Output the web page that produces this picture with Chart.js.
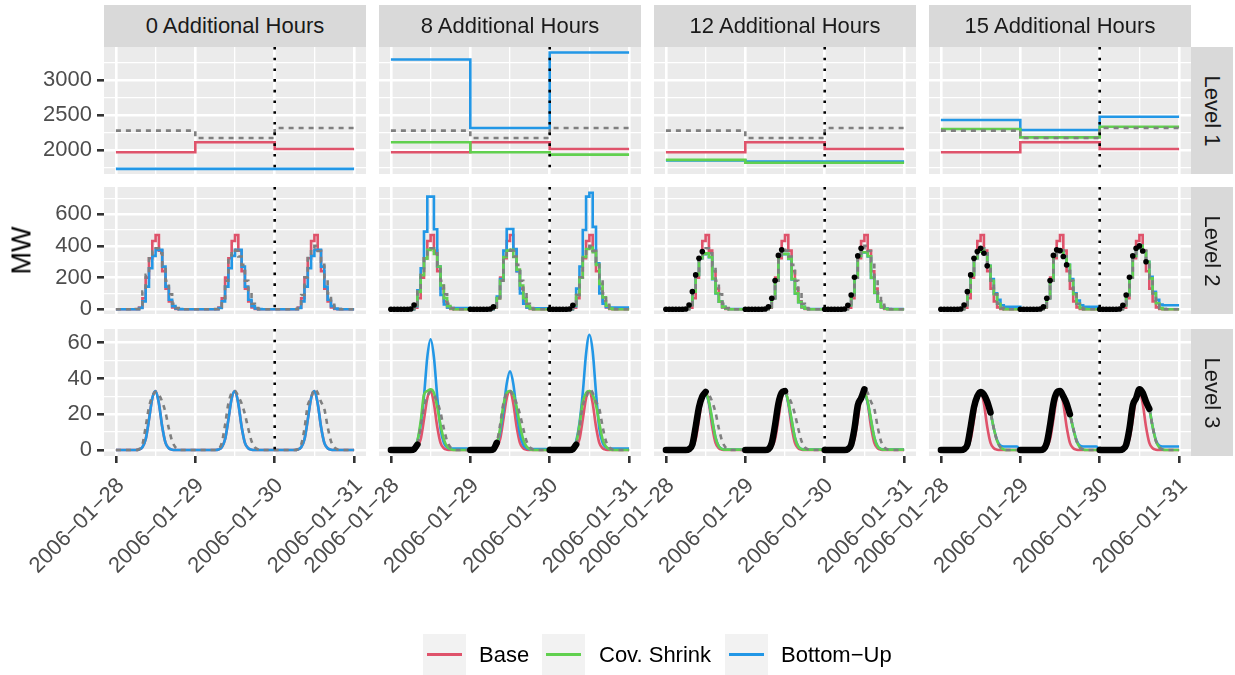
<!DOCTYPE html>
<html>
<head>
<meta charset="utf-8">
<script src="https://cdn.jsdelivr.net/npm/chart.js@4.4.1/dist/chart.umd.min.js"></script>
<style>
  body { margin: 0; width: 1235px; height: 675px; background: #fff; position: relative; overflow: hidden;
         font-family: "Liberation Sans", Arial, sans-serif; }
  canvas { position: absolute; left: 0; top: 0; }
  .strip { position: absolute; background: #D9D9D9; color: #1A1A1A; font-size: 22px;
           display: flex; align-items: center; justify-content: center; white-space: nowrap; }
  .strip.side span { transform: rotate(90deg); display: block; }
  .title { position: absolute; font-size: 27px; color: #000; transform: rotate(-90deg); white-space: nowrap; }
  .key { position: absolute; background: #F2F2F2; width: 43px; height: 41px; }
  .key i { position: absolute; left: 4px; right: 4px; top: 19px; height: 2.6px; }
  .lab { position: absolute; font-size: 22px; color: #000; white-space: nowrap; line-height: 41px; }
</style>
</head>
<body>
<script>
// ---- facets ----
const extraHours = [0, 8, 12, 15];
const levelNames = ['Level 1', 'Level 2', 'Level 3'];
const dateLabels = ['2006\u221201\u221228', '2006\u221201\u221229', '2006\u221201\u221230', '2006\u221201\u221231'];
const forecastOrigin = 48;           // hours after 2006-01-28 00:00
const xGrid = [0, 12, 24, 36, 48, 60, 72];

const yGrid1 = [1750, 2000, 2250, 2500, 2750, 3000, 3250];
const yLab1 = [2000, 2500, 3000];
const yGrid2 = [0, 100, 200, 300, 400, 500, 600, 700];
const yLab2 = [0, 200, 400, 600];
const yGrid3 = [0, 10, 20, 30, 40, 50, 60];
const yLab3 = [0, 20, 40, 60];

// ---- Level 1 : daily values (28, 29, 30 Jan) ----
const actual1 = [2276, 2171, 2314];
const base1 = [1966, 2109, 2014];
const bu1_c1 = [1729, 1729, 1729];
const bu1_c2 = [3296, 2314, 3396];
const bu1_c3 = [1850, 1833, 1833];
const bu1_c4 = [2429, 2286, 2476];
const cs1_c2 = [2109, 1966, 1933];
const cs1_c3 = [1857, 1816, 1816];
const cs1_c4 = [2300, 2180, 2333];

// ---- Level 2 : hourly values, hour 0 .. 72 ----
const actual2 = [
  0,0,0,0,0,0,2,27,111,217,322,364,385,354,274,180,95,35,8,1,0,0,0,0,
  0,0,0,0,0,0,2,15,69,181,340,375,370,333,280,180,95,35,8,1,0,0,0,0,
  0,0,0,0,0,0,2,25,90,202,337,385,400,368,300,195,100,38,8,1,0,0,0,0, 0];
const base2 = [
  0,0,0,0,0,0,0,10,69,200,322,431,469,370,240,130,50,12,2,0,0,0,0,0,
  0,0,0,0,0,0,0,10,69,200,322,431,469,370,240,130,50,12,2,0,0,0,0,0,
  0,0,0,0,0,0,0,10,69,200,322,431,469,370,240,130,50,12,2,0,0,0,0,0, 0];
const bu2_c1 = [
  0,0,0,0,0,0,0,8,50,143,259,337,375,375,269,143,60,20,5,1,0,0,0,0,
  0,0,0,0,0,0,0,8,50,143,259,337,375,375,269,143,60,20,5,1,0,0,0,0,
  0,0,0,0,0,0,0,8,50,143,259,337,375,375,269,143,60,20,5,1,0,0,0,0, 0];
const bu2_c2 = [
  0,0,0,0,0,0,1,20,120,259,490,711,711,505,269,90,30,12,8,8,8,8,8,8,
  0,0,0,0,0,0,1,15,80,190,370,507,507,380,240,100,35,12,6,6,6,6,6,6,
  0,0,0,0,0,0,1,20,130,270,500,711,736,520,290,100,35,15,10,10,10,10,10,10, 10];
const cs2_c2 = [
  0,0,0,0,0,0,2,25,110,215,320,375,385,350,270,150,70,20,5,0,0,0,0,0,
  0,0,0,0,0,0,2,15,70,180,330,370,375,330,250,150,70,20,5,0,0,0,0,0,
  0,0,0,0,0,0,2,25,90,200,330,380,390,360,280,160,75,22,5,0,0,0,0,0, 0];
const bu2_c3 = [
  0,0,0,0,0,0,2,27,111,217,322,348,352,328,190,100,48,15,4,2,2,2,2,2,
  0,0,0,0,0,0,2,15,69,181,340,348,348,318,188,98,45,15,4,2,2,2,2,2,
  0,0,0,0,0,0,2,25,90,202,337,358,358,333,198,103,48,15,4,2,2,2,2,2, 2];
const cs2_c3 = [
  0,0,0,0,0,0,2,27,111,217,322,350,354,330,193,101,48,15,3,0,0,0,0,0,
  0,0,0,0,0,0,2,15,69,181,340,350,350,320,190,100,45,15,3,0,0,0,0,0,
  0,0,0,0,0,0,2,25,90,202,337,360,360,335,200,105,48,15,3,0,0,0,0,0, 0];
const bu2_c4 = [
  0,0,0,0,0,0,2,27,111,217,322,364,385,354,274,190,100,60,25,15,15,15,15,15,
  0,0,0,0,0,0,2,15,69,181,340,375,370,333,280,190,100,55,25,15,15,15,15,15,
  0,0,0,0,0,0,2,25,90,202,337,385,400,368,300,205,110,60,30,25,25,25,25,25, 25];
const cs2_c4 = [
  0,0,0,0,0,0,2,27,111,217,322,364,385,354,274,180,95,35,8,1,0,0,0,0,
  0,0,0,0,0,0,2,15,69,181,340,375,370,333,280,180,95,35,8,1,0,0,0,0,
  0,0,0,0,0,0,2,25,90,202,337,385,400,368,300,195,100,38,8,1,0,0,0,0, 0];

// ---- Level 3 : hourly values, hour 0 .. 72 ----
const actual3 = [
  0,0,0,0,0,0,0,0.5,3,13,24,30,32.5,31,27,21,12,5,1.5,0.3,0,0,0,0,
  0,0,0,0,0,0,0,0.5,4,14,26,32,33,30,26,20,12,5,1.5,0.3,0,0,0,0,
  0,0,0,0,0,0,0,0.5,3,12,25,29,34,32,27,23,13,5,1.5,0.3,0,0,0,0, 0];
const base3 = [
  0,0,0,0,0,0,0,0.3,1.5,6,17,29,33,26,13,4,1,0.2,0,0,0,0,0,0,
  0,0,0,0,0,0,0,0.3,1.5,6,17,29,33,26,13,4,1,0.2,0,0,0,0,0,0,
  0,0,0,0,0,0,0,0.3,1.5,6,17,29,33,26,13,4,1,0.2,0,0,0,0,0,0, 0];
const bu3_c1 = [
  0,0,0,0,0,0,0,0.3,1.5,6,17,29,33,26,13,4,1,0.2,0,0,0,0,0,0,
  0,0,0,0,0,0,0,0.3,1.5,6,17,29,33,26,13,4,1,0.2,0,0,0,0,0,0,
  0,0,0,0,0,0,0,0.3,1.5,6,17,29,33,26,13,4,1,0.2,0,0,0,0,0,0, 0];
const bu3_c2 = [
  0,0,0,0,0,0,0,0.5,5,14,30,52,62,52,30,12,4,1.5,0.8,0.8,0.8,0.8,0.8,0.8,
  0,0,0,0,0,0,0,0.5,3,10,22,37,44,37,22,9,3,1,0.5,0.5,0.5,0.5,0.5,0.5,
  0,0,0,0,0,0,0,0.5,5,15,32,54,64.5,55,32,12,4,1.5,0.8,0.8,0.8,0.8,0.8,0.8, 0.8];
const cs3_c2 = [
  0,0,0,0,0,0,0,0.5,5,16,31,33,34,32,24,14,6,2,0.5,0,0,0,0,0,
  0,0,0,0,0,0,0,0.5,3,12,25,32,33,31,24,14,6,2,0.5,0,0,0,0,0,
  0,0,0,0,0,0,0,0.5,4,14,27,32,33,31,25,15,6,2,0.5,0,0,0,0,0, 0];
const bu3_c3 = [
  0,0,0,0,0,0,0,0.5,3,13,24,30,31.5,26.5,16.5,7,2,0.6,0.3,0.3,0.3,0.3,0.3,0.3,
  0,0,0,0,0,0,0,0.5,4,14,26,32,32.5,26.5,16.5,7,2,0.6,0.3,0.3,0.3,0.3,0.3,0.3,
  0,0,0,0,0,0,0,0.5,3,12,25,29,31.5,26.5,16.5,7,2,0.6,0.3,0.3,0.3,0.3,0.3,0.3, 0.3];
const cs3_c3 = [
  0,0,0,0,0,0,0,0.5,3,13,24,30,32,27,17,7,2,0.5,0.2,0.2,0.2,0.2,0.2,0.2,
  0,0,0,0,0,0,0,0.5,4,14,26,32,33,27,17,7,2,0.5,0.2,0.2,0.2,0.2,0.2,0.2,
  0,0,0,0,0,0,0,0.5,3,12,25,29,32,27,17,7,2,0.5,0.2,0.2,0.2,0.2,0.2,0.2, 0.2];
const bu3_c4 = [
  0,0,0,0,0,0,0,0.5,3,13,24,30,32.5,31,27,21,12,5.5,2.5,2,2,2,2,2,
  0,0,0,0,0,0,0,0.5,4,14,26,32,33,30,26,20,12,5.5,2.5,2,2,2,2,2,
  0,0,0,0,0,0,0,0.5,3,12,25,29,34,32,27,23,13,5.5,2.5,2,2,2,2,2, 2];
const cs3_c4 = [
  0,0,0,0,0,0,0,0.5,3,13,24,30,32.5,31,27,21,12,5,1.5,0.3,0,0,0,0,
  0,0,0,0,0,0,0,0.5,4,14,26,32,33,30,26,20,12,5,1.5,0.3,0,0,0,0,
  0,0,0,0,0,0,0,0.5,3,12,25,29,34,32,27,23,13,5,1.5,0.3,0,0,0,0, 0];

// ---- styling ----
const FONT = '"Liberation Sans", Arial, sans-serif';
const RED = '#DF536B', GREEN = '#61D04F', BLUE = '#2297E6', GREY = '#7F7F7F';
const LW = 2.6;

const colLeft = [104, 379, 654, 929];
const rowTop = [47, 187, 329];
const panelW = 262, panelH = 127;

const levels = [
  { actual: actual1, base: base1, bu: [bu1_c1, bu1_c2, bu1_c3, bu1_c4], cs: [null, cs1_c2, cs1_c3, cs1_c4],
    range: [1655, 3475], grid: yGrid1, labels: yLab1, daily: true },
  { actual: actual2, base: base2, bu: [bu2_c1, bu2_c2, bu2_c3, bu2_c4], cs: [null, cs2_c2, cs2_c3, cs2_c4],
    range: [-30, 772], grid: yGrid2, labels: yLab2, stepped: true },
  { actual: actual3, base: base3, bu: [bu3_c1, bu3_c2, bu3_c3, bu3_c4], cs: [null, cs3_c2, cs3_c3, cs3_c4],
    range: [-3.35, 67.7], grid: yGrid3, labels: yLab3, smooth: true }
];

function points(vals, lvl) {
  if (lvl.daily) return [0, 24, 48, 72].map((h, i) => ({ x: h, y: vals[Math.min(i, 2)] }));
  return vals.map((v, h) => ({ x: h, y: v }));
}

function lineSet(vals, lvl, color, dash) {
  return {
    data: points(vals, lvl),
    borderColor: color, borderWidth: LW, borderDash: dash || [],
    pointRadius: 0, stepped: lvl.smooth ? false : true,
    cubicInterpolationMode: lvl.smooth ? 'monotone' : 'default',
    fill: false
  };
}

// grey panel background
const panelBg = {
  id: 'panelBg',
  beforeDraw(chart) {
    const { ctx, chartArea: a } = chart;
    ctx.save();
    ctx.fillStyle = '#EBEBEB';
    ctx.fillRect(a.left, a.top, a.right - a.left, a.bottom - a.top);
    ctx.restore();
  }
};

// dotted vertical line at the forecast origin
const originLine = {
  id: 'originLine',
  afterDatasetsDraw(chart) {
    const { ctx, chartArea: a, scales } = chart;
    const x = scales.x.getPixelForValue(forecastOrigin);
    ctx.save();
    ctx.strokeStyle = '#000';
    ctx.lineWidth = LW;
    ctx.setLineDash([2.6, 8.1]);
    ctx.beginPath();
    ctx.moveTo(x, a.top);
    ctx.lineTo(x, a.bottom);
    ctx.stroke();
    ctx.restore();
  }
};

levels.forEach((lvl, r) => {
  extraHours.forEach((k, c) => {
    const left = c === 0, bottom = r === 2;
    const datasets = [];   // first dataset is drawn on top

    if (k > 0 && r > 0) {
      if (r === 1) {
        datasets.push({
          data: lvl.actual.map((v, h) => ({ x: h, y: (h < 72 && h % 24 < k) ? v : null })),
          showLine: false, pointRadius: 2.8, pointBackgroundColor: '#000', pointBorderWidth: 0
        });
      } else {
        datasets.push({
          data: lvl.actual.map((v, h) => ({ x: h, y: (h < 72 && h % 24 <= k) ? v : null })),
          borderColor: '#000', borderWidth: 6.5, borderCapStyle: 'round', borderJoinStyle: 'round',
          pointRadius: 0, cubicInterpolationMode: 'monotone', spanGaps: false
        });
      }
    }
    datasets.push(lineSet(lvl.actual, lvl, GREY, [5, 5]));
    if (lvl.cs[c]) datasets.push(lineSet(lvl.cs[c], lvl, GREEN));
    datasets.push(lineSet(lvl.bu[c], lvl, BLUE));
    datasets.push(lineSet(lvl.base, lvl, RED));

    const yW = left ? 104 : 0, xH = bottom ? 160 : 0;
    const canvas = document.createElement('canvas');
    canvas.width = 1235; canvas.height = 675;
    document.body.appendChild(canvas);

    new Chart(canvas.getContext('2d'), {
      type: 'line',
      data: { datasets },
      plugins: [panelBg, originLine],
      options: {
        responsive: false,
        animation: false,
        events: [],
        layout: {
          padding: {
            left: colLeft[c] - yW,
            top: rowTop[r],
            right: 1235 - colLeft[c] - panelW,
            bottom: 675 - rowTop[r] - panelH - xH
          }
        },
        plugins: { legend: { display: false }, tooltip: { enabled: false } },
        scales: {
          x: {
            type: 'linear', min: -3.6, max: 75.6,
            afterBuildTicks: ax => { ax.ticks = xGrid.map(v => ({ value: v })); },
            afterFit: s => { s.height = xH; s.paddingLeft = 0; s.paddingRight = 0; },
            border: { display: false },
            grid: {
              color: '#FFFFFF',
              lineWidth: ctx => (ctx.tick && ctx.tick.value % 24 === 0) ? LW : LW / 2,
              drawTicks: bottom, tickLength: 7, tickWidth: LW,
              tickColor: ctx => (ctx.tick && ctx.tick.value % 24 === 0) ? '#333333' : 'rgba(0,0,0,0)'
            },
            ticks: {
              display: bottom, autoSkip: false, minRotation: 45, maxRotation: 45,
              padding: 10, labelOffset: 5,
              color: '#4D4D4D', font: { family: FONT, size: 22 },
              callback: v => v % 24 === 0 ? dateLabels[v / 24] : ''
            }
          },
          y: {
            type: 'linear', min: lvl.range[0], max: lvl.range[1],
            afterBuildTicks: ax => { ax.ticks = lvl.grid.map(v => ({ value: v })); },
            afterFit: s => { s.width = yW; s.paddingTop = 0; s.paddingBottom = 0; },
            border: { display: false },
            grid: {
              color: '#FFFFFF',
              lineWidth: ctx => (ctx.tick && lvl.labels.includes(ctx.tick.value)) ? LW : LW / 2,
              drawTicks: left, tickLength: 7, tickWidth: LW,
              tickColor: ctx => (ctx.tick && lvl.labels.includes(ctx.tick.value)) ? '#333333' : 'rgba(0,0,0,0)'
            },
            ticks: {
              display: left, autoSkip: false, padding: 5,
              color: '#4D4D4D', font: { family: FONT, size: 22 },
              callback: v => lvl.labels.includes(v) ? String(v) : ''
            }
          }
        }
      }
    });
  });
});

// ---- strips, axis title, legend ----
function addDiv(cls, style, html) {
  const d = document.createElement('div');
  d.className = cls;
  Object.assign(d.style, style);
  d.innerHTML = html;
  document.body.appendChild(d);
  return d;
}
extraHours.forEach((k, c) => {
  addDiv('strip', { left: colLeft[c] + 'px', top: '5px', width: panelW + 'px', height: '42px' },
         k + ' Additional Hours');
});
levelNames.forEach((name, r) => {
  addDiv('strip side', { left: (colLeft[3] + panelW) + 'px', top: rowTop[r] + 'px', width: '42px', height: panelH + 'px' },
         '<span>' + name + '</span>');
});
addDiv('title', { left: '-2px', top: '235px' }, 'MW');

const legendItems = [['Base', RED, 423, 479], ['Cov. Shrink', GREEN, 542, 599], ['Bottom\u2212Up', BLUE, 725, 781]];
legendItems.forEach(([name, color, kx, tx]) => {
  addDiv('key', { left: kx + 'px', top: '634px' }, '<i style="background:' + color + '"></i>');
  addDiv('lab', { left: tx + 'px', top: '634px' }, name);
});
</script>
</body>
</html>
